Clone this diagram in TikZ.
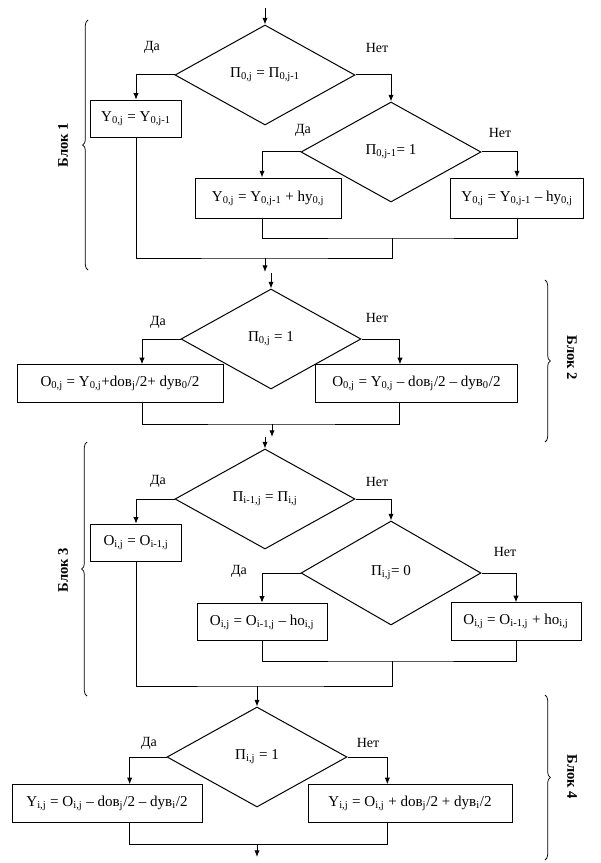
\documentclass[tikz,border=0pt]{standalone}
\usepackage{fontspec}
\setmainfont{Liberation Serif}
\usetikzlibrary{shapes.geometric,arrows.meta,decorations.pathreplacing}
\newcommand{\ix}[1]{\textsubscript{#1}}

\begin{document}
\begin{tikzpicture}[x=0.75pt,y=0.75pt,yscale=-1,line width=0.75pt,
	every node/.style={font=\fontsize{11.3}{13}\selectfont},
	cond/.style={draw,diamond,minimum width=135pt,minimum height=75pt,inner sep=0pt},
	act/.style={draw,rectangle,minimum height=28pt,inner sep=2pt},
	lbl/.style={font=\fontsize{10.5}{12}\selectfont},
	blk/.style={font=\bfseries\fontsize{11}{13}\selectfont},
	arr/.style={-{Latex[length=5pt,width=4pt]}},
	brc/.style={decorate,decoration={brace,amplitude=4pt},line width=0.55pt}]
			\useasboundingbox (0,0) rectangle (600,863);
			
			% Блок 1
			\coordinate (s0) at (265,8);
			\node[cond] (d1) at (265,75) {П\ix{0,j} = П\ix{0,j-1}};
			\node[act,minimum width=68pt] (b1) at (136,119) {Y\ix{0,j} = Y\ix{0,j-1}};
			\node[cond] (d2) at (391,152) {П\ix{0,j-1}= 1};
			\node[act,minimum width=109.5pt,minimum height=30pt] (b2) at (268,198) {Y\ix{0,j} = Y\ix{0,j-1} + hy\ix{0,j}};
			\node[act,minimum width=100pt,minimum height=30pt] (b3) at (517,198) {Y\ix{0,j} = Y\ix{0,j-1} -- hy\ix{0,j}};
			\coordinate (m1) at (392,238);
			\coordinate (j1) at (265,258);
			\coordinate (e1) at (265,272);
			\node[lbl] (y1) at (152,47) {Да};
			\node[lbl] (n1) at (377,48) {Нет};
			\node[lbl] (y2) at (303,130) {Да};
			\node[lbl] (n2) at (500,133) {Нет};
			
			\draw[arr] (s0) -- (d1.north);
			\draw[arr] (d1.west) -| (b1.north);
			\draw[arr] (d1.east) -| (d2.north);
			\draw[arr] (d2.west) -| ([xshift=-4.5pt]b2.north);
			\draw[arr] (d2.east) -| (b3.north);
			\draw ([xshift=-4.5pt]b2.south) |- (m1) -| (b3.south);
			\draw (m1) |- (j1) -| (b1.south);
			\draw[arr] (j1) -- (e1);
			
			% Блок 2
			\coordinate (s1) at (271,273);
			\node[cond] (d3) at (271,339) {П\ix{0,j} = 1};
			\node[act,minimum width=154.5pt] (b4) at (120,383.5) {O\ix{0,j} = Y\ix{0,j}+dов\ix{j}/2+ dув\ix{0}/2};
			\node[act,minimum width=152pt] (b5) at (416.5,383.5) {O\ix{0,j} = Y\ix{0,j} -- dов\ix{j}/2 -- dув\ix{0}/2};
			\coordinate (m2) at (272,424);
			\coordinate (e2) at (272,437);
			\node[lbl] (y3) at (158,322) {Да};
			\node[lbl] (n3) at (377,318) {Нет};
			
			\draw[arr] (s1) -- (d3.north);
			\draw[arr] (d3.west) -| ([xshift=16.5pt]b4.north);
			\draw[arr] (d3.east) -| ([xshift=-12.4pt]b5.north);
			\draw ([xshift=16.5pt]b4.south) |- (m2) -| ([xshift=-12.4pt]b5.south);
			\draw[arr] (m2) -- (e2);
			
			% Блок 3
			\coordinate (s2) at (265,437);
			\node[cond] (d4) at (265,499) {П\ix{i-1,j} = П\ix{i,j}};
			\node[act,minimum width=68pt] (b6) at (136,543) {O\ix{i,j} = O\ix{i-1,j}};
			\node[cond,minimum height=78pt] (d5) at (391,573) {П\ix{i,j}= 0};
			\node[act,minimum width=97.5pt] (b7) at (262,622) {O\ix{i,j} = O\ix{i-1,j} -- ho\ix{i,j}};
			\node[act,minimum width=97.5pt] (b8) at (516,621.5) {O\ix{i,j} = O\ix{i-1,j} + ho\ix{i,j}};
			\coordinate (m3) at (392,661);
			\coordinate (j3) at (257,686);
			\node[lbl] (y4) at (158,481) {Да};
			\node[lbl] (n4) at (377,482) {Нет};
			\node[lbl] (y5) at (239,571) {Да};
			\node[lbl] (n5) at (505,552) {Нет};
			
			\draw[arr] (s2) -- (d4.north);
			\draw[arr] (d4.west) -| (b6.north);
			\draw[arr] (d4.east) -| (d5.north);
			\draw[arr] (d5.west) -| (b7.north);
			\draw[arr] (d5.east) -| (b8.north);
			\draw (b7.south) |- (m3) -| (b8.south);
			\draw (m3) |- (j3) -| (b6.south);
			
			% Блок 4
			\node[cond] (d6) at (257,757) {П\ix{i,j} = 1};
			\node[act,minimum width=142.5pt] (b9) at (107,803.5) {Y\ix{i,j} = O\ix{i,j} -- dов\ix{j}/2 -- dув\ix{i}/2};
			\node[act,minimum width=153pt] (b10) at (410,803.5) {Y\ix{i,j} = O\ix{i,j} + dов\ix{j}/2 + dув\ix{i}/2};
			\coordinate (m4) at (257,844);
			\coordinate (e4) at (257,857);
			\node[lbl] (y6) at (149,743) {Да};
			\node[lbl] (n6) at (368,743) {Нет};
			
			\draw[arr] (j3) -- (d6.north);
			\draw[arr] (d6.west) -| ([xshift=17pt]b9.north);
			\draw[arr] (d6.east) -| ([xshift=-17pt]b10.north);
			\draw ([xshift=17pt]b9.south) |- (m4) -| ([xshift=-17pt]b10.south);
			\draw[arr] (m4) -- (e4);
			
			% скобки
			\draw[brc] (88,270) -- (88,20);
			\node[blk,rotate=90] (k1) at (63,145) {Блок 1};
			\draw[brc] (545,280) -- (545,442);
			\node[blk,rotate=-90] (k2) at (572,358) {Блок 2};
			\draw[brc] (87,696) -- (87,442);
			\node[blk,rotate=90] (k3) at (63,570) {Блок 3};
			\draw[brc] (545,695) -- (545,860);
			\node[blk,rotate=-90] (k4) at (572,777) {Блок 4};
\end{tikzpicture}
\end{document}
